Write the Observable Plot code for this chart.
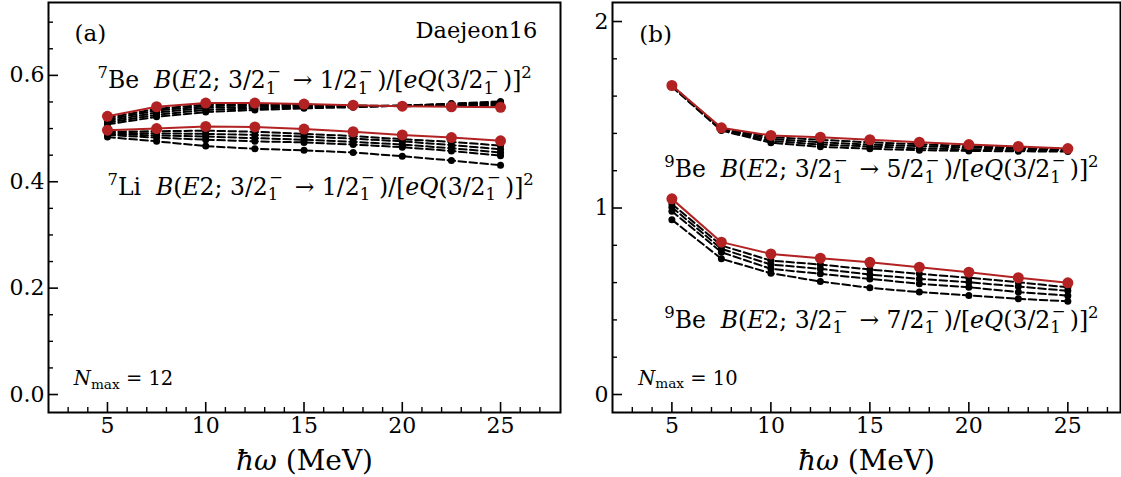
<!DOCTYPE html>
<html><head><meta charset="utf-8">
<script src="https://cdn.jsdelivr.net/npm/d3@7"></script>
<script src="https://cdn.jsdelivr.net/npm/@observablehq/plot@0.6"></script>
<style>
body{margin:0;background:#fff;}
#wrap{position:relative;width:1121px;height:477px;overflow:hidden;background:#fff;}
#wrap svg{position:absolute;top:0;}
</style></head><body><div id="wrap"></div>
<script>
// ---- data ----
const hw = [5, 7.5, 10, 12.5, 15, 17.5, 20, 22.5, 25];

// panel (a)  Nmax = 2..10 (black dashed), Nmax = 12 (red)
const be7Black = [
  [0.508, 0.522, 0.531, 0.535, 0.538, 0.540, 0.543, 0.547, 0.551],
  [0.511, 0.526, 0.535, 0.538, 0.540, 0.541, 0.543, 0.546, 0.549],
  [0.514, 0.530, 0.539, 0.541, 0.542, 0.542, 0.543, 0.545, 0.547],
  [0.517, 0.534, 0.542, 0.544, 0.544, 0.543, 0.543, 0.544, 0.545],
  [0.520, 0.537, 0.545, 0.546, 0.545, 0.543, 0.542, 0.543, 0.543]
];
const be7Red = [0.523, 0.541, 0.548, 0.548, 0.546, 0.544, 0.542, 0.541, 0.540];
const li7Black = [
  [0.484, 0.476, 0.467, 0.462, 0.459, 0.455, 0.448, 0.440, 0.431],
  [0.488, 0.483, 0.479, 0.476, 0.474, 0.470, 0.465, 0.458, 0.449],
  [0.490, 0.487, 0.485, 0.482, 0.479, 0.475, 0.470, 0.463, 0.455],
  [0.492, 0.491, 0.490, 0.488, 0.485, 0.481, 0.476, 0.469, 0.461],
  [0.494, 0.495, 0.496, 0.494, 0.490, 0.486, 0.480, 0.475, 0.468]
];
const li7Red = [0.497, 0.500, 0.504, 0.503, 0.499, 0.494, 0.488, 0.483, 0.477];

// panel (b)  Nmax = 2..8 (black dashed), Nmax = 10 (red)
const be9FiveBlack = [
  [1.650, 1.415, 1.350, 1.328, 1.318, 1.310, 1.306, 1.304, 1.303],
  [1.652, 1.420, 1.360, 1.340, 1.330, 1.320, 1.314, 1.310, 1.308],
  [1.654, 1.424, 1.370, 1.352, 1.340, 1.332, 1.324, 1.318, 1.312],
  [1.656, 1.427, 1.380, 1.366, 1.352, 1.342, 1.332, 1.324, 1.316]
];
const be9FiveRed = [1.657, 1.430, 1.389, 1.380, 1.366, 1.353, 1.340, 1.330, 1.319];
const be9SevenBlack = [
  [0.937, 0.728, 0.650, 0.606, 0.572, 0.549, 0.531, 0.513, 0.500],
  [0.983, 0.763, 0.674, 0.647, 0.620, 0.594, 0.575, 0.549, 0.530],
  [1.004, 0.781, 0.697, 0.674, 0.643, 0.620, 0.602, 0.579, 0.556],
  [1.022, 0.799, 0.718, 0.697, 0.670, 0.647, 0.626, 0.602, 0.575]
];
const be9SevenRed = [1.049, 0.817, 0.754, 0.731, 0.709, 0.683, 0.656, 0.626, 0.599];

// ticks
const xMajor = [5, 10, 15, 20, 25];
const xMinorA = [3,4,6,7,8,9,11,12,13,14,16,17,18,19,21,22,23,24,26,27];
const xMinorB = [3,4,6,7,8,9,11,12,13,14,16,17,18,19,21,22,23,24,26,27];
const yMajorA = [0.0, 0.2, 0.4, 0.6];
const yMinorA = [0.05,0.1,0.15,0.25,0.3,0.35,0.45,0.5,0.55,0.65,0.7];
const yMajorB = [0, 1, 2];
const yMinorB = [0.2,0.4,0.6,0.8,1.2,1.4,1.6,1.8];

// annotations
const annotA = [
  {x: 3.32, y: 0.665, label: "(a)", size: 23, anchor: "start"},
  {x: 26.87, y: 0.671, label: "Daejeon16", size: 22.5, anchor: "end"},
  {x: 4.49, y: 0.5765, label: "7Be B(E2;3/2->1/2)", size: 23.5, anchor: "start"},
  {x: 5.0, y: 0.376, label: "7Li B(E2;3/2->1/2)", size: 23.5, anchor: "start"},
  {x: 3.29, y: 0.017, label: "Nmax = 12", size: 19.5, anchor: "start"}
];
const annotB = [
  {x: 3.35, y: 1.889, label: "(b)", size: 23, anchor: "start"},
  {x: 4.61, y: 1.166, label: "9Be B(E2;3/2->5/2)", size: 23.5, anchor: "start"},
  {x: 4.61, y: 0.358, label: "9Be B(E2;3/2->7/2)", size: 23.5, anchor: "start"},
  {x: 3.30, y: 0.052, label: "Nmax = 10", size: 19.5, anchor: "start"}
];
const xLabel = "ħω (MeV)";

// rich text definitions
const Q = {sub: "1", sup: "\u2212"};
function be(iso, el, fin) {
  return [{sup: iso}, {t: el + "\u00A0\u00A0"}, {t: "B", it: 1}, {t: "("}, {t: "E", it: 1},
    {t: "2; 3/2"}, Q, {t: " \u2192 " + fin + "/2"}, Q, {t: ")/["}, {t: "eQ", it: 1},
    {t: "(3/2"}, Q, {t: ")]"}, {sup: "2"}];
}
const richMap = {
  "7Be B(E2;3/2->1/2)": be("7", "Be", "1"),
  "7Li B(E2;3/2->1/2)": be("7", "Li", "1"),
  "9Be B(E2;3/2->5/2)": be("9", "Be", "5"),
  "9Be B(E2;3/2->7/2)": be("9", "Be", "7"),
  "Nmax = 12": [{t: "N", it: 1}, {sub: "max", low: 1}, {t: " = 12"}],
  "Nmax = 10": [{t: "N", it: 1}, {sub: "max", low: 1}, {t: " = 10"}],
  "ħω (MeV)": [{t: "ħω", it: 1}, {t: " (MeV)"}]
};

// ---- helpers ----
const FONT = "DejaVu Serif";
const RED = "#b22222";
function rows(series, key) {
  const out = [];
  series.forEach((s, i) => s.forEach((v, j) => out.push({x: hw[j], y: v, k: key + i})));
  return out;
}
function rich(el, tokens, F) {
  const ns = "http://www.w3.org/2000/svg";
  el.textContent = "";
  el.setAttribute("style", "white-space:pre");
  let off = 0, pend = 0;
  const add = (str, size, target, italic, dx) => {
    const ts = document.createElementNS(ns, "tspan");
    ts.textContent = str;
    ts.setAttribute("font-size", size);
    if (italic) ts.setAttribute("font-style", "italic");
    const dy = target - off;
    if (dy) ts.setAttribute("dy", dy);
    const d = dx + pend;
    if (d) ts.setAttribute("dx", d);
    pend = 0;
    off = target;
    el.appendChild(ts);
  };
  for (const tk of tokens) {
    if (tk.sup && tk.sub) {
      add(tk.sub, 0.7 * F, 0.24 * F, false, 0);
      add(tk.sup, 0.7 * F, -0.47 * F, false, -0.55 * 0.7 * F);
      pend = 0.18 * F;
    } else if (tk.sup) add(tk.sup, 0.7 * F, -0.42 * F, false, 0);
    else if (tk.sub) add(tk.sub, 0.7 * F, (tk.low ? 0.18 : 0.24) * F, false, 0);
    else add(tk.t, F, 0, !!tk.it, 0);
  }
}

function panel({width, marginLeft, marginRight, xDomain, yDomain, xMinor, yMajor, yMinor, yFormat, black, red, annot}) {
  const H = 477, mT = 2, mB = 65;
  const fh = H - mT - mB, fw = width - marginLeft - marginRight;
  const bRows = rows(black, "b");
  const rRows = rows(red, "r");
  const marks = [
    Plot.axisX({ticks: xMajor, tickSize: 0, tickPadding: 5, fontSize: 22, label: null, tickFormat: d3.format("d")}),
    Plot.axisY({ticks: yMajor, tickSize: 0, tickPadding: 4, fontSize: 22, label: null, tickFormat: yFormat}),
    Plot.tickX(xMajor, {x: d => d, insetTop: fh - 10, stroke: "black", strokeWidth: 1.6}),
    Plot.tickX(xMinor, {x: d => d, insetTop: fh - 5, stroke: "black", strokeWidth: 1.4}),
    Plot.tickY(yMajor, {y: d => d, insetRight: fw - 10, stroke: "black", strokeWidth: 1.6}),
    Plot.tickY(yMinor, {y: d => d, insetRight: fw - 5, stroke: "black", strokeWidth: 1.4}),
    Plot.line(bRows, {x: "x", y: "y", z: "k", stroke: "black", strokeWidth: 2, strokeDasharray: "7.5,3.5"}),
    Plot.dot(bRows, {x: "x", y: "y", r: 3.5, fill: "black", stroke: "none"}),
    Plot.line(rRows, {x: "x", y: "y", z: "k", stroke: RED, strokeWidth: 2}),
    Plot.dot(rRows, {x: "x", y: "y", r: 5.5, fill: RED, stroke: "none"}),
    Plot.text(annot.filter(d => d.anchor === "start"), {x: "x", y: "y", text: "label", fontSize: "size", textAnchor: "start", lineAnchor: "bottom", fill: "black"}),
    Plot.text(annot.filter(d => d.anchor === "end"), {x: "x", y: "y", text: "label", fontSize: "size", textAnchor: "end", lineAnchor: "bottom", fill: "black"}),
    Plot.text([xLabel], {text: d => d, frameAnchor: "bottom", dy: 57, lineAnchor: "bottom", fontSize: 28, fill: "black"}),
    Plot.frame({stroke: "black", strokeWidth: 2})
  ];
  const svg = Plot.plot({
    width, height: H, marginLeft, marginRight, marginTop: mT, marginBottom: mB,
    x: {domain: xDomain}, y: {domain: yDomain},
    style: {fontFamily: FONT, background: "white", color: "black", overflow: "visible"},
    marks
  });
  svg.querySelectorAll("text").forEach(t => {
    const key = t.textContent;
    if (richMap[key]) {
      const fs = parseFloat(t.getAttribute("font-size") || t.parentNode.getAttribute("font-size") || 21);
      rich(t, richMap[key], fs);
    }
  });
  return svg;
}

const wrap = document.getElementById("wrap");
const svgA = panel({
  width: 562, marginLeft: 48, marginRight: 2,
  xDomain: [2, 28.05], yDomain: [-0.0338, 0.737],
  xMinor: xMinorA, yMajor: yMajorA, yMinor: yMinorA, yFormat: d3.format(".1f"),
  black: [...be7Black, ...li7Black], red: [be7Red, li7Red], annot: annotA
});
svgA.style.left = "0px";
wrap.appendChild(svgA);
const svgB = panel({
  width: 559, marginLeft: 50, marginRight: 1,
  xDomain: [2, 27.66], yDomain: [-0.0965, 2.102],
  xMinor: xMinorB, yMajor: yMajorB, yMinor: yMinorB, yFormat: d3.format("d"),
  black: [...be9FiveBlack, ...be9SevenBlack], red: [be9FiveRed, be9SevenRed], annot: annotB
});
svgB.style.left = "562px";
wrap.appendChild(svgB);
</script></body></html>
